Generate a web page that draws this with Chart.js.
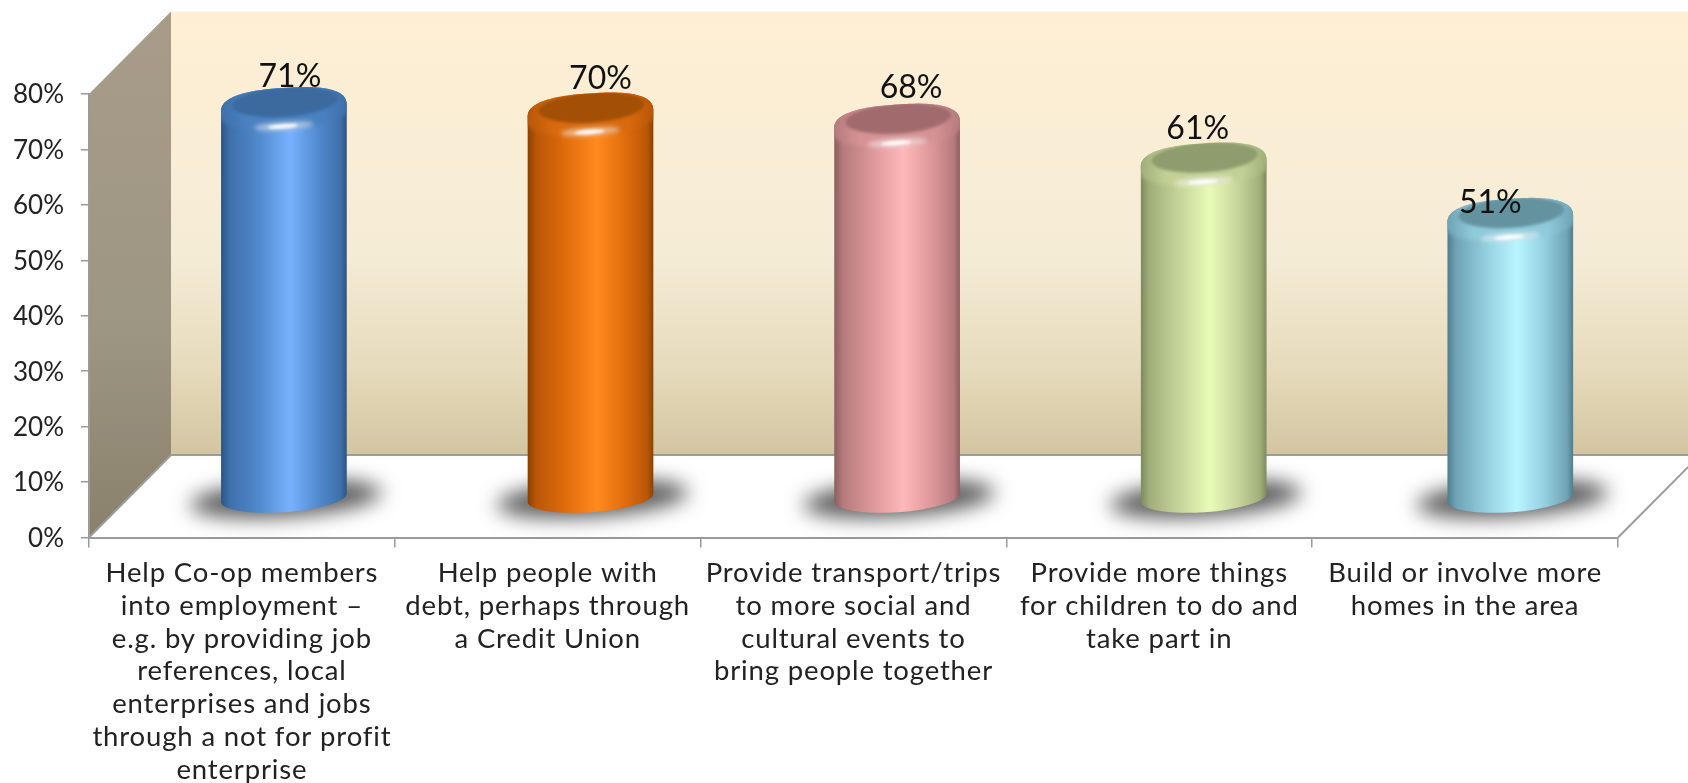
<!DOCTYPE html>
<html>
<head>
<meta charset="utf-8">
<style>
  html, body { margin: 0; padding: 0; background: #fff; }
  #wrap { width: 1688px; height: 783px; }
</style>
<script src="https://cdn.jsdelivr.net/npm/chart.js@4/dist/chart.umd.min.js"></script>
</head>
<body>
<div id="wrap"><canvas id="chart" width="1688" height="783"></canvas></div>
<script>
const categories = [
  ["Help Co-op members", "into employment –", "e.g. by providing job", "references, local", "enterprises and jobs", "through a not for profit", "enterprise"],
  ["Help people with", "debt, perhaps through", "a Credit Union"],
  ["Provide transport/trips", "to more social and", "cultural events to", "bring people together"],
  ["Provide more things", "for children to do and", "take part in"],
  ["Build or involve more", "homes in the area"]
];
const shares = [71, 70, 68, 61, 51];
const yTicks = [0, 10, 20, 30, 40, 50, 60, 70, 80];
const barPalettes = [
  { edge: "#2c5484", soft: "#3f70aa", mid: "#5089cd", light: "#78b2ff", top: "#3c6a9f", rim: "#4a81c0" },
  { edge: "#8a4200", soft: "#b95608", mid: "#e06c0c", light: "#ff8a1e", top: "#a34f06", rim: "#d86a0e" },
  { edge: "#8c5e60", soft: "#b67b7d", mid: "#dc9799", light: "#ffb8ba", top: "#a16b6d", rim: "#d69294" },
  { edge: "#7d8a5e", soft: "#a0ae7a", mid: "#c5d49a", light: "#e8fbb6", top: "#8f9c6e", rim: "#c2d196" },
  { edge: "#4e7e90", soft: "#6fa3b5", mid: "#93cede", light: "#b8f6ff", top: "#65929f", rim: "#8fcadb" }
];
// Hand placement of the percentage labels relative to each cylinder's cap
const labelShiftX = [6, 10, 14, -6, -20];
const labelShiftY = [0, -3, -6, -3, 15];

const WALL_X = 82;
const WALL_Y = 82.5;
const BAR_DEPTH_X = 42;
const BAR_DEPTH_Y = 39;
const BAR_SPREAD = 0.8;
const TILT = -0.07;
const FONT = "Lato, 'Open Sans', sans-serif";

// Back wall, side wall and floor of the 3D box, anchored on the scales.
const boxPlugin = {
  id: "box3d",
  beforeDraw(chart) {
    const { ctx, chartArea: a, scales: { y } } = chart;
    const top = y.getPixelForValue(80);
    const base = y.getPixelForValue(0);
    ctx.save();

    const wall = ctx.createLinearGradient(0, top - WALL_Y, 0, base - WALL_Y);
    wall.addColorStop(0, "#feefd4");
    wall.addColorStop(0.55, "#f5ecd6");
    wall.addColorStop(0.8, "#e6dbbc");
    wall.addColorStop(1, "#d3c5a1");
    ctx.fillStyle = wall;
    ctx.fillRect(a.left + WALL_X, top - WALL_Y, chart.width, base - top);

    const side = ctx.createLinearGradient(0, top - WALL_Y, 0, base);
    side.addColorStop(0, "#a89c89");
    side.addColorStop(0.6, "#9d9682");
    side.addColorStop(1, "#8a816c");
    ctx.fillStyle = side;
    ctx.beginPath();
    ctx.moveTo(a.left, top);
    ctx.lineTo(a.left + WALL_X, top - WALL_Y);
    ctx.lineTo(a.left + WALL_X, base - WALL_Y);
    ctx.lineTo(a.left, base);
    ctx.closePath();
    ctx.fill();

    ctx.strokeStyle = "#9c9c9c";
    ctx.lineWidth = 2;
    ctx.beginPath();
    ctx.moveTo(a.left, base);
    ctx.lineTo(a.left + WALL_X, base - WALL_Y);
    ctx.lineTo(chart.width, base - WALL_Y);
    ctx.moveTo(a.right, base);
    ctx.lineTo(a.right + WALL_X, base - WALL_Y);
    ctx.stroke();
    ctx.restore();
    ctx.letterSpacing = "0.85px";
  }
};

// Traces a tilted superellipse so the cap has rounded shoulders rather than pointed ends.
function capPath(ctx, cx, cy, rx, ry, from, to, n) {
  const pow = 0.78;
  const cos = Math.cos(TILT), sin = Math.sin(TILT);
  for (let k = 0; k <= n; k++) {
    const t = from + (to - from) * k / n;
    const c = Math.cos(t), s = Math.sin(t);
    const px = rx * Math.sign(c) * Math.pow(Math.abs(c), pow);
    const py = ry * Math.sign(s) * Math.pow(Math.abs(s), pow);
    ctx.lineTo(cx + px * cos - py * sin, cy + px * sin + py * cos);
  }
}

function drawCylinder(ctx, cx, yTop, yBase, w, pal) {
  const rx = w / 2;
  const ryTop = 21, ryBase = 14.5;
  const dx = rx * Math.cos(TILT), dy = rx * Math.sin(TILT);
  const left = cx - dx, right = cx + dx;
  const body = ctx.createLinearGradient(left, 0, right, 0);
  body.addColorStop(0, pal.edge);
  body.addColorStop(0.07, pal.soft);
  body.addColorStop(0.3, pal.mid);
  body.addColorStop(0.55, pal.light);
  body.addColorStop(0.78, pal.mid);
  body.addColorStop(0.95, pal.soft);
  body.addColorStop(1, pal.edge);

  // Soft contact shadow on the floor
  ctx.save();
  ctx.filter = "blur(10px)";
  ctx.fillStyle = "rgba(50,50,50,0.8)";
  ctx.beginPath();
  ctx.ellipse(cx + 2, yBase + 1, rx + 33, 18, TILT, 0, Math.PI * 2);
  ctx.fill();
  ctx.restore();

  // Silhouette: rounded cap, straight sides, domed lower edge
  ctx.save();
  ctx.beginPath();
  ctx.moveTo(left, yBase - dy);
  ctx.ellipse(cx, yBase, rx, ryBase, TILT, Math.PI, 0, true);
  capPath(ctx, cx, yTop, rx, ryTop, 0, -Math.PI, 90);
  ctx.closePath();
  ctx.fillStyle = body;
  ctx.fill();
  ctx.clip();

  // Bevelled rim, blended softly into the side wall
  const rim = ctx.createLinearGradient(left, 0, right, 0);
  rim.addColorStop(0, pal.soft);
  rim.addColorStop(0.2, pal.rim);
  rim.addColorStop(0.8, pal.rim);
  rim.addColorStop(1, pal.soft);
  ctx.filter = "blur(2px)";
  ctx.fillStyle = rim;
  ctx.beginPath();
  capPath(ctx, cx, yTop - 1, rx + 3, ryTop, 0, Math.PI * 2, 120);
  ctx.closePath();
  ctx.fill();

  // Darker inner disc of the cap
  ctx.filter = "blur(1.5px)";
  ctx.fillStyle = pal.top;
  ctx.beginPath();
  ctx.ellipse(cx + 1, yTop - 7, rx - 10, ryTop - 6, TILT, 0, Math.PI * 2);
  ctx.fill();

  // Specular spot on the front of the rim
  ctx.filter = "blur(2.5px)";
  ctx.fillStyle = "rgba(255,255,255,0.55)";
  ctx.beginPath();
  ctx.ellipse(cx, yTop + 17, 30, 4, TILT, 0, Math.PI * 2);
  ctx.fill();
  ctx.filter = "blur(1.5px)";
  ctx.fillStyle = "rgba(255,255,255,0.95)";
  ctx.beginPath();
  ctx.ellipse(cx - 1, yTop + 17.5, 15, 2.2, TILT, 0, Math.PI * 2);
  ctx.fill();
  ctx.restore();
}

// Replaces the flat bar rectangles with shaded cylinders set halfway into the box.
const cylinderPlugin = {
  id: "cylinders",
  beforeDatasetDraw(chart, args) {
    const { ctx } = chart;
    args.meta.data.forEach((bar, i) => {
      const cx = bar.x + BAR_DEPTH_X + i * BAR_SPREAD;
      drawCylinder(ctx, cx, bar.y - BAR_DEPTH_Y + 4, bar.base - BAR_DEPTH_Y, bar.width, barPalettes[i]);
    });
    return false;
  },
  afterDatasetsDraw(chart) {
    const { ctx } = chart;
    const meta = chart.getDatasetMeta(0);
    ctx.save();
    ctx.letterSpacing = "0px";
    ctx.fillStyle = "#111";
    ctx.font = "400 32px " + FONT;
    ctx.textAlign = "center";
    ctx.textBaseline = "alphabetic";
    meta.data.forEach((bar, i) => {
      const cx = bar.x + BAR_DEPTH_X + i * BAR_SPREAD;
      ctx.fillText(shares[i] + "%", cx + labelShiftX[i], bar.y - 57 + labelShiftY[i]);
    });
    ctx.restore();
    // Value-axis labels are drawn after this hook and use normal spacing
    ctx.letterSpacing = "0px";
  }
};

new Chart(document.getElementById("chart"), {
  type: "bar",
  data: {
    labels: categories,
    datasets: [{ data: shares, backgroundColor: barPalettes.map(p => p.mid), barPercentage: 0.412, categoryPercentage: 1 }]
  },
  options: {
    responsive: false,
    animation: false,
    events: [],
    layout: { padding: { top: 94, right: 70, left: 0, bottom: 0 } },
    plugins: { legend: { display: false }, tooltip: { enabled: false } },
    scales: {
      x: {
        afterFit(s) { s.height = 783 - 537.5; },
        grid: { offset: true, drawOnChartArea: false, color: "#9a9a9a", lineWidth: 1.5, tickLength: 10 },
        border: { color: "#9a9a9a", width: 2 },
        ticks: {
          autoSkip: false, maxRotation: 0, minRotation: 0, color: "#222", padding: 9,
          font: { family: FONT, size: 27.5, lineHeight: 1.196 }
        }
      },
      y: {
        min: 0, max: 80,
        afterFit(s) { s.width = 89; },
        afterBuildTicks(s) { s.ticks = yTicks.map(v => ({ value: v })); },
        grid: { drawOnChartArea: false, color: "#9a9a9a", lineWidth: 1.5, tickLength: 8 },
        border: { color: "#9a9a9a", width: 2 },
        ticks: {
          z: 1, color: "#222", padding: 17, labelOffset: 1,
          font: { family: FONT, size: 26 },
          callback: v => v + "%"
        }
      }
    }
  },
  plugins: [boxPlugin, cylinderPlugin]
});
</script>
</body>
</html>
